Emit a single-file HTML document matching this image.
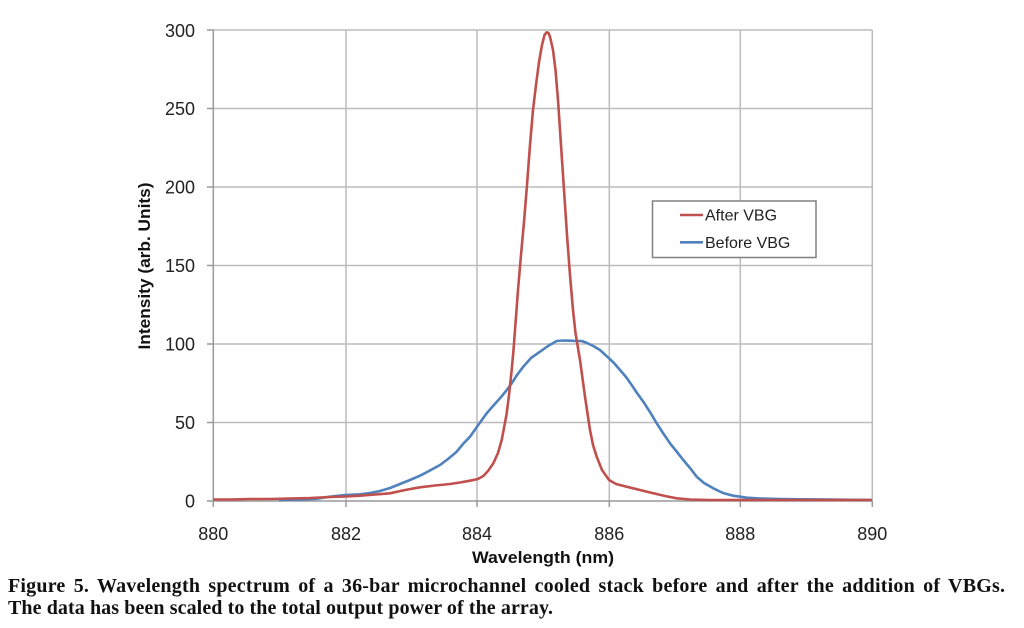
<!DOCTYPE html>
<html>
<head>
<meta charset="utf-8">
<style>
html,body{margin:0;padding:0;background:#fff;}
svg{display:block;}
</style>
</head>
<body>
<svg width="1024" height="628" viewBox="0 0 1024 628" xmlns="http://www.w3.org/2000/svg">
<rect width="1024" height="628" fill="#fff"/>
<!-- gridlines -->
<g stroke="#bcbcbc" stroke-width="1.5" fill="none">
<line x1="213.3" y1="30" x2="872.3" y2="30"/>
<line x1="213.3" y1="108.5" x2="872.3" y2="108.5"/>
<line x1="213.3" y1="187" x2="872.3" y2="187"/>
<line x1="213.3" y1="265.5" x2="872.3" y2="265.5"/>
<line x1="213.3" y1="344" x2="872.3" y2="344"/>
<line x1="213.3" y1="422.5" x2="872.3" y2="422.5"/>
<line x1="346" y1="30" x2="346" y2="501"/>
<line x1="477" y1="30" x2="477" y2="501"/>
<line x1="609.3" y1="30" x2="609.3" y2="501"/>
<line x1="740.3" y1="30" x2="740.3" y2="501"/>
<line x1="872.3" y1="30" x2="872.3" y2="501"/>
</g>
<!-- axes -->
<g stroke="#999" stroke-width="1.5" fill="none">
<line x1="213.3" y1="30" x2="213.3" y2="507"/>
<line x1="207" y1="501" x2="872.3" y2="501"/>
<line x1="207" y1="30" x2="213.3" y2="30"/>
<line x1="207" y1="108.5" x2="213.3" y2="108.5"/>
<line x1="207" y1="187" x2="213.3" y2="187"/>
<line x1="207" y1="265.5" x2="213.3" y2="265.5"/>
<line x1="207" y1="344" x2="213.3" y2="344"/>
<line x1="207" y1="422.5" x2="213.3" y2="422.5"/>
<line x1="346" y1="501" x2="346" y2="507"/>
<line x1="477" y1="501" x2="477" y2="507"/>
<line x1="609.3" y1="501" x2="609.3" y2="507"/>
<line x1="740.3" y1="501" x2="740.3" y2="507"/>
<line x1="872.3" y1="501" x2="872.3" y2="507"/>
</g>
<!-- y tick labels -->
<g font-family="Liberation Sans, sans-serif" font-size="18" fill="#222" text-anchor="end">
<text x="195" y="37">300</text>
<text x="195" y="115">250</text>
<text x="195" y="193.5">200</text>
<text x="195" y="272">150</text>
<text x="195" y="350.5">100</text>
<text x="195" y="429">50</text>
<text x="195" y="507.5">0</text>
</g>
<!-- x tick labels -->
<g font-family="Liberation Sans, sans-serif" font-size="18" fill="#222" text-anchor="middle">
<text x="213.3" y="540">880</text>
<text x="346" y="540">882</text>
<text x="477" y="540">884</text>
<text x="609.3" y="540">886</text>
<text x="740.3" y="540">888</text>
<text x="872.3" y="540">890</text>
</g>
<!-- axis titles -->
<text x="543" y="563" font-family="Liberation Sans, sans-serif" font-size="17" font-weight="bold" fill="#111" text-anchor="middle" textLength="142" lengthAdjust="spacingAndGlyphs">Wavelength (nm)</text>
<text transform="translate(150,266) rotate(-90)" x="0" y="0" font-family="Liberation Sans, sans-serif" font-size="17" font-weight="bold" fill="#111" text-anchor="middle" textLength="167" lengthAdjust="spacingAndGlyphs">Intensity (arb. Units)</text>
<!-- series -->
<polyline fill="none" stroke="#4f81bd" stroke-width="2.6" stroke-linejoin="round" points="279,500 300,499.5 315,499 330,496.7 345,495 360,494.3 370,493 380,491 390,488 400,484 410,480 420,475.7 430,470.5 440,465 448,459 456.7,451.7 463,444 470,436.7 477,426.7 486.7,413.3 493,406 500,398.3 506,391 511.7,383.3 517,375 523.3,366.7 531,358 540,351.7 548,346 556.7,341 563,340.5 570,340.7 576,341 581.7,341 587,343 593.3,346 600,350 609,358.3 614,363 620,370 626,377 631.7,385 637,393 643.3,401.7 650,412 656.7,423.3 663,433 670,443.3 677,452 683.3,460 690,468 696.7,476.7 704,483 713.3,488.3 723,493 733.3,495.7 746.7,497.7 760,498.5 780,499 800,499.3 830,499.5 872,500"/>
<polyline fill="none" stroke="#c0504d" stroke-width="2.6" stroke-linejoin="round" points="213,499.5 230,499.5 250,499 270,499 290,498.5 310,498 330,497 346,496.5 360,495.7 375,494.5 390,493.3 405,490 420,487.3 435,485.5 450,484 460,482.5 470,480.7 478,479 483.3,476 488,471 493.3,463.3 498,453 501.7,440 504,428 506.7,413.3 509,395 511.7,370 513.5,350 515,330 518,290 521,255 524,222 527,185 530,145 533,110 536,85 539,62 542,45 544.5,35 546.7,32.3 548.5,33 550,36.7 553,50 555.5,70 558,100 561,145 564,190 567,235 570,275 573,310 575.5,333 580,360 585,396.7 590,430 593,445 596.7,456.7 602,470 609,480 616,484 626.7,486.7 640,490 653.3,493.3 665,496 676.7,498.3 690,499.5 710,500 740,500 780,500 830,500 872,500"/>
<!-- legend -->
<rect x="652.5" y="201" width="163.5" height="56.5" fill="#fff" stroke="#808080" stroke-width="1.5"/>
<line x1="680" y1="215" x2="703" y2="215" stroke="#c0504d" stroke-width="2.6"/>
<line x1="680" y1="242.3" x2="703" y2="242.3" stroke="#4f81bd" stroke-width="2.6"/>
<g font-family="Liberation Sans, sans-serif" font-size="16" fill="#222">
<text x="705" y="220.5">After VBG</text>
<text x="705" y="248">Before VBG</text>
</g>
<!-- caption -->
<g font-family="Liberation Serif, serif" font-size="20" font-weight="bold" fill="#111">
<text x="8" y="592" textLength="997" lengthAdjust="spacing" word-spacing="3">Figure 5.  Wavelength spectrum of a 36-bar microchannel cooled stack before and after the addition of VBGs.</text>
<text x="8" y="614" textLength="545" lengthAdjust="spacing">The data has been scaled to the total output power of the array.</text>
</g>
</svg>
</body>
</html>
